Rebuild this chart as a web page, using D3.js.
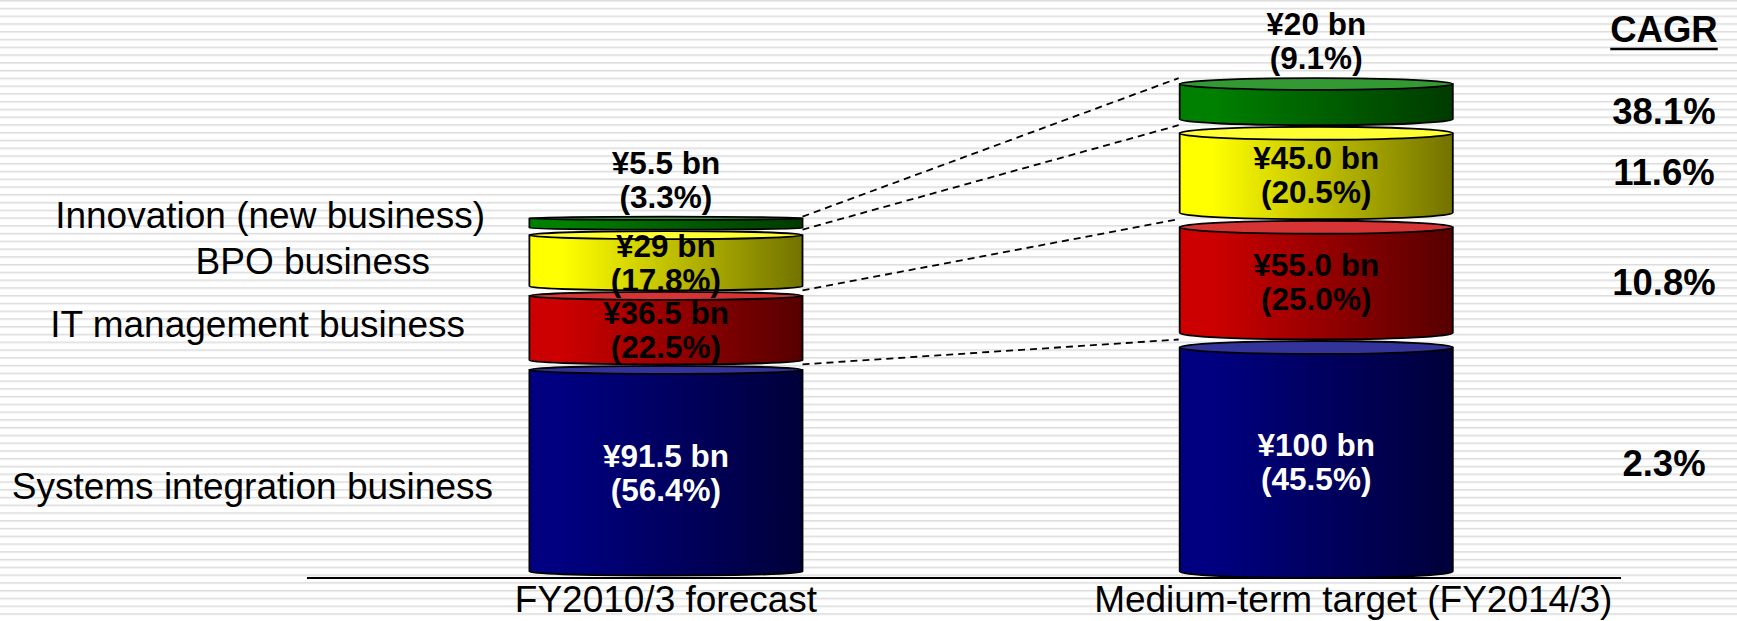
<!DOCTYPE html>
<html>
<head>
<meta charset="utf-8">
<script src="https://cdn.jsdelivr.net/npm/d3@7"></script>
<style>
  html, body { margin: 0; padding: 0; background: #ffffff; }
  svg { display: block; }
  text { font-family: "Liberation Sans", Arial, sans-serif; }
</style>
</head>
<body>
<div id="chart"></div>
<script>
// ---- data -------------------------------------------------------------
const categories = ["FY2010/3 forecast", "Medium-term target (FY2014/3)"];
// segments listed bottom to top
const segments = [
  "Systems integration business",
  "IT management business",
  "BPO business",
  "Innovation (new business)"
];
const salesFY2010 = [91.5, 36.5, 29, 5.5];     // ¥ bn
const salesFY2014 = [100, 55.0, 45.0, 20];     // ¥ bn
const valueLabelsFY2010 = ["¥91.5 bn", "¥36.5 bn", "¥29 bn", "¥5.5 bn"];
const shareLabelsFY2010 = ["(56.4%)", "(22.5%)", "(17.8%)", "(3.3%)"];
const valueLabelsFY2014 = ["¥100 bn", "¥55.0 bn", "¥45.0 bn", "¥20 bn"];
const shareLabelsFY2014 = ["(45.5%)", "(25.0%)", "(20.5%)", "(9.1%)"];
const cagrLabels = ["2.3%", "10.8%", "11.6%", "38.1%"];
const cagrTitle = "CAGR";

// ---- styles -----------------------------------------------------------
const palette = [
  { light: "#000080", dark: "#00003a", top: "#333399", text: "#ffffff" },
  { light: "#cc0000", dark: "#560000", top: "#d63434", text: "#000000" },
  { light: "#ffff00", dark: "#727200", top: "#ffff33", text: "#000000" },
  { light: "#008000", dark: "#003a00", top: "#339933", text: "#000000" }
];

// ---- layout -----------------------------------------------------------
const W = 1737, H = 621;
const baseLineY = 578;          // ground line
const stackBottom = 571.5;      // centre of the bottom ellipse of each stack
const columnTilt = [4, 6.5];    // max half-height of the ellipses per column
const segLabelRight = [493, 465, 430, 485];  // right edge of the segment names
const segLabelDy = [28, 9, 13, 5];           // baseline offset from segment centre
const cagrDy = [16, 15, 12.5, 22];           // baseline offset from segment centre
const cagrX = 1664;

const svg = d3.select("#chart").append("svg")
  .attr("width", W).attr("height", H);

const defs = svg.append("defs");

// striped backdrop
const pat = defs.append("pattern")
  .attr("id", "stripes").attr("patternUnits", "userSpaceOnUse")
  .attr("width", 10).attr("height", 621 / 80);
pat.append("rect").attr("width", 10).attr("height", 621 / 80).attr("fill", "#ffffff");
pat.append("rect").attr("y", 0).attr("width", 10).attr("height", 1).attr("fill", "#dcdcdc");
pat.append("rect").attr("y", 1).attr("width", 10).attr("height", 1).attr("fill", "#ebebeb");
svg.append("rect").attr("width", W).attr("height", H).attr("fill", "url(#stripes)");

// horizontal shading of each cylinder body
palette.forEach((p, i) => {
  const g = defs.append("linearGradient")
    .attr("id", "body" + i).attr("x1", 0).attr("x2", 1).attr("y1", 0).attr("y2", 0);
  g.append("stop").attr("offset", 0).attr("stop-color", p.light);
  g.append("stop").attr("offset", 0.12).attr("stop-color", p.light);
  g.append("stop").attr("offset", 1).attr("stop-color", p.dark);
});

// ---- scales -----------------------------------------------------------
const x = d3.scaleBand()
  .domain(categories)
  .range([307, 1675.2])
  .paddingInner(0.58)
  .paddingOuter(0.342);

// segment height in px; the base segment rises faster above 45 bn
const h = d3.scaleLinear().domain([0, 45, 100]).range([0, 79.5, 224]);

function stack(values, tilt) {
  const out = [];
  let yb = stackBottom, prevRy = 0;
  values.forEach((v, i) => {
    const hh = h(v);
    const ry = Math.min(tilt, hh / 6);
    if (i > 0) yb -= prevRy + ry + 1.5;
    out.push({ i, v, top: yb - hh, bottom: yb, ry, mid: yb - hh / 2 });
    yb -= hh;
    prevRy = ry;
  });
  return out;
}

const columns = [
  { cat: categories[0], segs: stack(salesFY2010, columnTilt[0]), vals: valueLabelsFY2010, shares: shareLabelsFY2010 },
  { cat: categories[1], segs: stack(salesFY2014, columnTilt[1]), vals: valueLabelsFY2014, shares: shareLabelsFY2014 }
];

// ---- ground line ------------------------------------------------------
svg.append("line")
  .attr("x1", 307).attr("x2", 1621)
  .attr("y1", baseLineY).attr("y2", baseLineY)
  .attr("stroke", "#000").attr("stroke-width", 2);

// ---- dashed links between the two stacks --------------------------------
const c0 = columns[0], c1 = columns[1];
const xL = x(c0.cat) + x.bandwidth(), xR = x(c1.cat) - 1;
const links = [];
for (let i = 1; i < segments.length; i++) {
  links.push([c0.segs[i].bottom + c0.segs[i].ry, c1.segs[i].bottom + c1.segs[i].ry]);
}
const last = segments.length - 1;
links.push([c0.segs[last].top - c0.segs[last].ry, c1.segs[last].top - c1.segs[last].ry]);
svg.append("g").selectAll("line").data(links).join("line")
  .attr("x1", xL).attr("x2", xR)
  .attr("y1", d => d[0]).attr("y2", d => d[1])
  .attr("stroke", "#000").attr("stroke-width", 1.8)
  .attr("stroke-dasharray", "7,5");

// ---- cylinders ----------------------------------------------------------
columns.forEach(col => {
  const x0 = x(col.cat), w = x.bandwidth(), x1 = x0 + w, rx = w / 2, cx = x0 + rx;
  const g = svg.append("g");
  const seg = g.selectAll("g").data(col.segs).join("g");
  seg.append("path")
    .attr("d", d => `M${x0},${d.top} L${x0},${d.bottom} A${rx},${d.ry} 0 0 0 ${x1},${d.bottom} L${x1},${d.top} Z`)
    .attr("fill", d => `url(#body${d.i})`)
    .attr("stroke", "#000").attr("stroke-width", 1.8).attr("stroke-linejoin", "round");
  seg.append("ellipse")
    .attr("cx", cx).attr("cy", d => d.top)
    .attr("rx", rx).attr("ry", d => d.ry)
    .attr("fill", d => palette[d.i].top)
    .attr("stroke", "#000").attr("stroke-width", 1.8);

  // value and share labels: inside the segment, or above the top one
  col.segs.forEach(d => {
    const inside = d.i < segments.length - 1;
    const y1 = inside ? d.mid - 4 : d.top - d.ry - 9 - 34;
    const t = g.append("text")
      .attr("x", cx).attr("text-anchor", "middle")
      .attr("font-size", 31.5).attr("font-weight", "bold")
      .attr("fill", inside ? palette[d.i].text : "#000");
    t.append("tspan").attr("x", cx).attr("y", y1).text(col.vals[d.i]);
    t.append("tspan").attr("x", cx).attr("y", y1 + 34).text(col.shares[d.i]);
  });
});

// ---- segment names --------------------------------------------------------
svg.append("g").selectAll("text").data(segments).join("text")
  .attr("x", (d, i) => segLabelRight[i])
  .attr("y", (d, i) => c0.segs[i].mid + segLabelDy[i])
  .attr("text-anchor", "end")
  .attr("font-size", 37)
  .attr("fill", "#000")
  .text(d => d);

// ---- category labels ------------------------------------------------------
const catShift = [0, 37];
svg.append("g").selectAll("text").data(categories).join("text")
  .attr("x", (d, i) => x(d) + x.bandwidth() / 2 + catShift[i])
  .attr("y", 612)
  .attr("text-anchor", "middle")
  .attr("font-size", 37)
  .attr("fill", "#000")
  .text(d => d);

// ---- CAGR column ----------------------------------------------------------
const title = svg.append("text")
  .attr("x", cagrX).attr("y", 42)
  .attr("text-anchor", "middle")
  .attr("font-size", 36.5).attr("font-weight", "bold")
  .text(cagrTitle);
const tb = title.node().getBBox();
svg.append("line")
  .attr("x1", tb.x).attr("x2", tb.x + tb.width)
  .attr("y1", 49).attr("y2", 49)
  .attr("stroke", "#000").attr("stroke-width", 2.5);

svg.append("g").selectAll("text").data(cagrLabels).join("text")
  .attr("x", cagrX)
  .attr("y", (d, i) => c1.segs[i].mid + cagrDy[i])
  .attr("text-anchor", "middle")
  .attr("font-size", 36.5).attr("font-weight", "bold")
  .text(d => d);
</script>
</body>
</html>
